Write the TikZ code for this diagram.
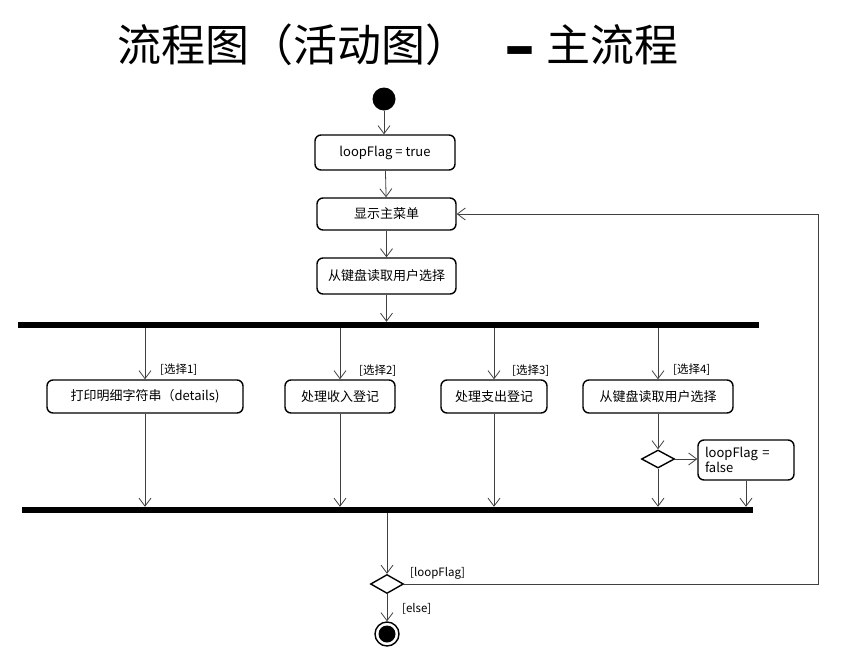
\documentclass[tikz,border=0pt]{standalone}
\usepackage{fontspec}
\setmainfont{Noto Sans CJK SC}
\newfontfamily\dashfont{DejaVu Sans}
\usetikzlibrary{arrows.meta,shapes.geometric}
\begin{document}
\begin{tikzpicture}[x=1pt,y=-1pt,
  act/.style={draw, line width=1.4pt, rounded corners=6pt, inner sep=0pt,
    font=\fontsize{13}{15}\selectfont, fill=white},
  flow/.style={draw=black!75, line width=0.8pt, -{Straight Barb[length=8pt,width=12pt]}},
  bar/.style={fill=black, inner sep=0pt, minimum height=6pt},
  dec/.style={diamond, draw, line width=1.4pt, inner sep=0pt, minimum width=33pt, minimum height=19pt, fill=white},
  guard/.style={font=\fontsize{11.5}{13}\selectfont, inner sep=0pt},
  ]
\useasboundingbox (0,0) rectangle (862,651);
% title
\node[anchor=west, inner sep=0pt, font=\fontsize{44}{48}\selectfont] (t1) at (117,45) {流程图（活动图）};
\node[inner sep=0pt, font=\dashfont\bfseries\fontsize{62}{64}\selectfont] (t2) at (520,57) {–};
\node[anchor=west, inner sep=0pt, font=\fontsize{44}{48}\selectfont] (t3) at (546,45) {主流程};
% start
\node[circle, fill=black, minimum size=23pt, inner sep=0pt] (start) at (384,99) {};
\node[act, minimum width=140pt, minimum height=35pt] (b1) at (385,152.5) {loopFlag = true};
\node[act, minimum width=139pt, minimum height=32pt] (b2) at (386.5,214) {显示主菜单};
\node[act, minimum width=139pt, minimum height=36pt] (b3) at (386.5,276) {从键盘读取用户选择};
\node[bar, minimum width=741pt] (fork) at (388.5,325) {};
% row
\node[act, minimum width=196pt, minimum height=33pt] (ba) at (145,396.5) {打印明细字符串（details)};
\node[act, minimum width=110pt, minimum height=33pt] (bb) at (340,396.5) {处理收入登记};
\node[act, minimum width=106pt, minimum height=33pt] (bc) at (494,396.5) {处理支出登记};
\node[act, minimum width=150pt, minimum height=33pt] (bd) at (658,396.5) {从键盘读取用户选择};
\node[guard, anchor=west] (g1) at (160,370) {[选择1]};
\node[guard, anchor=west] (g2) at (359,371) {[选择2]};
\node[guard, anchor=west] (g3) at (512,371) {[选择3]};
\node[guard, anchor=west] (g4) at (673,370) {[选择4]};
\node[dec, minimum height=18pt] (d1) at (658,459) {};
\node[act, minimum width=96pt, minimum height=40pt, align=left, text width=82pt] (bf) at (746,460) {loopFlag =\\false};
\node[bar, minimum width=731pt] (join) at (387.5,510) {};
\node[dec] (d2) at (387,584) {};
\node[guard, anchor=west] (gl) at (410,573) {[loopFlag]};
\node[guard, anchor=west] (ge) at (402,609) {[else]};
\node[circle, draw, line width=1.4pt, minimum size=24pt, inner sep=0pt] (end) at (387,634) {};
\node[circle, fill=black, minimum size=17pt, inner sep=0pt] (endin) at (387,634) {};
\coordinate (loopr) at (818,0);
% connectors
\draw[flow] (start) -- (start |- b1.north);
\draw[flow] (b1) -- (b2);
\draw[flow] (b2) -- (b3);
\draw[flow] (b3) -- (b3 |- fork.north);
\draw[flow] (ba |- fork.south) -- (ba.north);
\draw[flow] (bb |- fork.south) -- (bb.north);
\draw[flow] (bc |- fork.south) -- (bc.north);
\draw[flow] (bd |- fork.south) -- (bd.north);
\draw[flow] (ba.south) -- (ba |- join.north);
\draw[flow] (bb.south) -- (bb |- join.north);
\draw[flow] (bc.south) -- (bc |- join.north);
\draw[flow] (bd.south) -- (d1.north);
\draw[flow] (d1.east) -- (bf.west |- d1.east);
\draw[flow] (d1.south) -- (d1 |- join.north);
\draw[flow] (bf.south) -- (bf |- join.north);
\draw[flow] (join.south -| d2) -- (d2.north);
\draw[flow] (d2.east) -- (d2.east -| loopr) |- (b2.east);
\draw[flow] (d2.south) -- (end.north);
\end{tikzpicture}
\end{document}
